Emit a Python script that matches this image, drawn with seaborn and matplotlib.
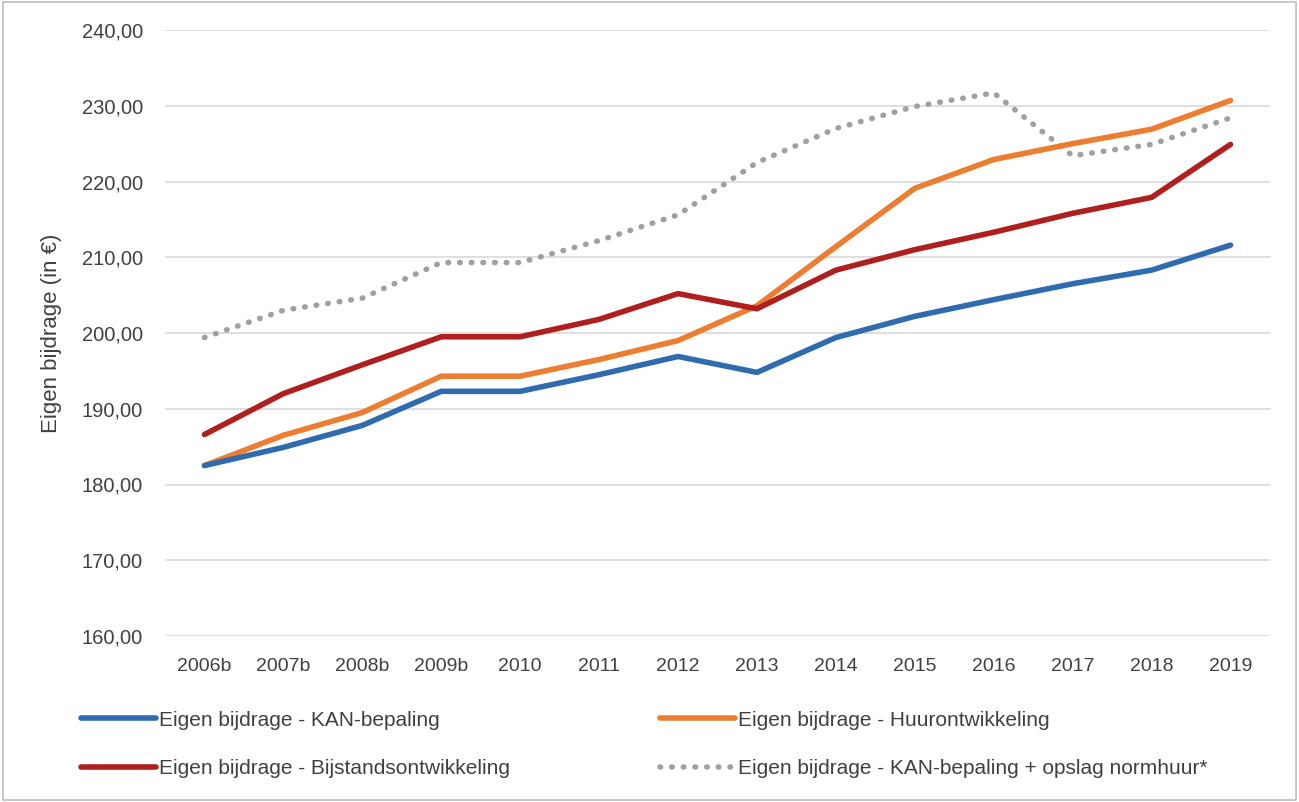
import matplotlib
matplotlib.use("Agg")
import matplotlib.pyplot as plt
import seaborn as sns
import pandas as pd
from matplotlib.lines import Line2D

years = ["2006b", "2007b", "2008b", "2009b", "2010", "2011", "2012",
         "2013", "2014", "2015", "2016", "2017", "2018", "2019"]
kan = [182.5, 184.9, 187.8, 192.3, 192.3, 194.5, 196.9, 194.8, 199.4, 202.2, 204.4, 206.5, 208.3, 211.6]
huur = [182.5, 186.5, 189.5, 194.3, 194.3, 196.5, 199.0, 203.6, 211.4, 219.1, 222.9, 225.0, 226.9, 230.7]
bijstand = [186.6, 192.0, 195.8, 199.5, 199.5, 201.8, 205.2, 203.2, 208.3, 211.0, 213.3, 215.8, 217.9, 224.9]
opslag = [199.4, 203.0, 204.6, 209.3, 209.3, 212.2, 215.6, 222.5, 227.0, 229.9, 231.7, 223.4, 224.9, 228.4]

names = ["Eigen bijdrage - KAN-bepaling",
         "Eigen bijdrage - Huurontwikkeling",
         "Eigen bijdrage - Bijstandsontwikkeling",
         "Eigen bijdrage - KAN-bepaling + opslag normhuur*"]
colors = ["#2E6BAF", "#ED7D31", "#B01E1E", "#A0A0A0"]

sns.set_theme(style="white")
plt.rcParams['font.family'] = ['Liberation Sans', 'DejaVu Sans']

fig = plt.figure(figsize=(12.99, 8.02), dpi=100)
ax = fig.add_axes([165/1299, 1 - 636/802, (1270-165)/1299, (636-30)/802])

series = [kan, huur, bijstand, opslag]
for i, (nm, vals) in enumerate(zip(names, series)):
    df = pd.DataFrame({"jaar": years, "waarde": vals})
    if i < 3:
        sns.lineplot(data=df, x="jaar", y="waarde", ax=ax, color=colors[i],
                     linewidth=4, sort=False, solid_capstyle="round",
                     solid_joinstyle="round", zorder=3 + (1 if i == 0 else 0))
    else:
        sns.lineplot(data=df, x="jaar", y="waarde", ax=ax, color=colors[i],
                     linewidth=4.0, sort=False, linestyle=(0, (0.1, 2.0)),
                     dash_capstyle="round", zorder=2)

ax.set_xlim(-0.5, len(years) - 0.5)
ax.set_ylim(160, 240)
ax.set_yticks(range(160, 241, 10))
ax.set_yticklabels([f"{v},00" for v in range(160, 241, 10)], fontsize=14.5, color="#404040")
ax.set_xticks(range(len(years)))
ax.set_xticklabels(years, fontsize=14, color="#404040")
ax.tick_params(axis="x", length=0, pad=16)
ax.tick_params(axis="y", length=0, pad=16)
ax.grid(axis="y", color="#D9D9D9", linewidth=1.2)
ax.set_axisbelow(True)
for s in ax.spines.values():
    s.set_visible(False)
ax.set_xlabel("")
ax.set_ylabel("Eigen bijdrage (in €)", fontsize=16, color="#404040", labelpad=14)

handles = [
    Line2D([], [], color=colors[0], linewidth=4),
    Line2D([], [], color=colors[2], linewidth=4),
    Line2D([], [], color=colors[1], linewidth=4),
    Line2D([], [], color=colors[3], linewidth=4.0, linestyle=(0, (0.1, 2.0)), dash_capstyle="round"),
]
labels = [names[0], names[2], names[1], names[3]]
fig.legend(handles, labels, ncol=2, loc="upper left", bbox_to_anchor=(62/1299, 1 - 692/802),
           frameon=False, fontsize=15, handlelength=3.6, handletextpad=0.15,
           columnspacing=7.2, labelspacing=1.4, labelcolor="#404040")

border = plt.Rectangle((0.002, 0.002), 0.996, 0.996, transform=fig.transFigure,
                       fill=False, edgecolor="#BFBFBF", linewidth=1.2)
fig.add_artist(border)

fig.savefig("out.png", dpi=100, facecolor="white")
